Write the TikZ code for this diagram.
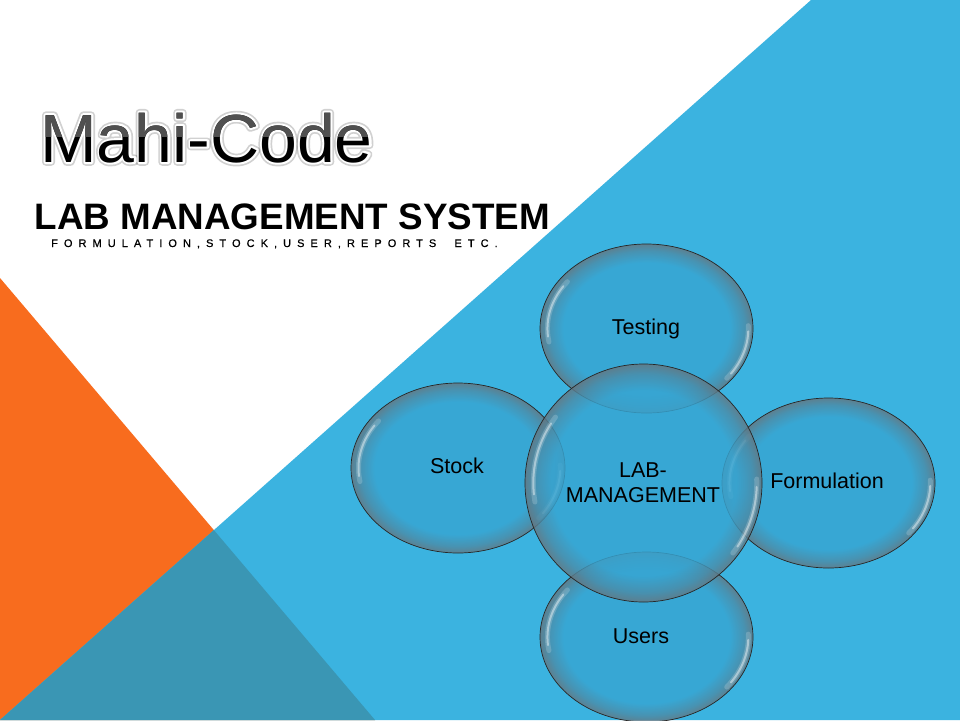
\documentclass[tikz,border=0pt]{standalone}
\usepackage{fontspec}
\setmainfont{Liberation Sans}
\newfontfamily\spacedfont[LetterSpace=55,FakeBold=0.6]{Liberation Sans}
\newfontfamily\mahiout[FakeBold=6]{Liberation Sans}
\newfontfamily\mahiglow[FakeBold=11]{Liberation Sans}
\usetikzlibrary{shapes.geometric,calc}
\definecolor{bgblue}{RGB}{59,179,224}
\definecolor{orng}{RGB}{248,108,30}
\definecolor{darkteal}{RGB}{58,150,180}
\definecolor{ellin}{RGB}{55,165,210}
\definecolor{ellrim}{RGB}{100,118,128}
\definecolor{ellmid}{RGB}{75,140,168}
\definecolor{titlegray}{RGB}{80,80,80}
\pgfdeclareradialshading{rimshade}{\pgfpoint{0bp}{0bp}}{color(0bp)=(ellin); color(19.5bp)=(ellin); color(23bp)=(ellmid); color(25bp)=(ellrim); color(50bp)=(ellrim)}
\newcommand\mybubble[5]{%
  \node[bubble, minimum width=#4pt, minimum height=#5pt] (#1) at (#2,#3) {};
  \draw[hlsoft] plot[domain=143:190, samples=25] ({#2+0.465*#4*cos(\x)},{#3-0.46*#5*sin(\x)});
  \draw[hlcore] plot[domain=147:186, samples=25] ({#2+0.465*#4*cos(\x)},{#3-0.46*#5*sin(\x)});
  \draw[hlsoft] plot[domain=-38:2, samples=25] ({#2+0.478*#4*cos(\x)},{#3-0.478*#5*sin(\x)});
  \draw[hlcore] plot[domain=-34:-2, samples=25] ({#2+0.478*#4*cos(\x)},{#3-0.478*#5*sin(\x)});
}
\begin{document}
\begin{tikzpicture}[x=1pt,y=-1pt,
  bubble/.style={ellipse, draw=black!85, line width=0.7pt, shade, shading=rimshade, fill opacity=0.82, draw opacity=1, inner sep=0pt},
  hlsoft/.style={white, line width=5pt, opacity=0.18, line cap=round},
  hlcore/.style={white, line width=2pt, opacity=0.42, line cap=round},
  lbl/.style={font=\fontsize{21.5}{25}\selectfont, text=black, inner sep=0pt, anchor=base},
  titlefont/.style={font=\fontsize{68}{80}\selectfont, inner sep=0pt},
]
\useasboundingbox (0,0) rectangle (960,720);
\clip (0,0) rectangle (960,720);
% background
\fill[white] (0,0) rectangle (960,720);
\fill[orng] (0,278) -- (375,720) -- (0,720) -- cycle;
\fill[bgblue] (811,0) -- (960,0) -- (960,720) -- (0,720) -- cycle;
\fill[darkteal] (213.9,530.1) -- (375,720) -- (0,720) -- cycle;
% title
\begin{scope}[line join=round, miter limit=1]
\node[font=\mahiglow\fontsize{68}{80}\selectfont, anchor=base west, inner sep=0pt, text=black, opacity=0.18, line join=round] (mahiglow) at (40,162) {Mahi-Code};
\node[font=\mahiout\fontsize{68}{80}\selectfont, anchor=base west, inner sep=0pt, text=white, line join=round] (mahiout) at (40,162) {Mahi-Code};
\node[titlefont, anchor=base west, text=black] (mahi) at (40,162) {Mahi-Code};
\begin{scope}
  \clip (0,100) rectangle (400,136);
  \node[titlefont, anchor=base west, text=titlegray] (mahitop) at (40,162) {Mahi-Code};
\end{scope}
\end{scope}
\node[font=\bfseries\fontsize{36.8}{40}\selectfont, anchor=base west, inner sep=0pt] (lms) at (34.5,229) {LAB MANAGEMENT SYSTEM};
\node[font=\spacedfont\fontsize{11}{13}\selectfont, anchor=base west, inner sep=0pt, text=black] (sub) at (51,247) {FORMULATION,STOCK,USER,REPORTS\ \ ETC.};
% bubbles
\mybubble{testing}{646.5}{328.5}{213}{169}
\mybubble{stock}{458}{468}{214}{170}
\mybubble{formulation}{828.5}{483}{213}{170}
\mybubble{users}{646.5}{637}{213}{170}
\mybubble{center}{643.5}{483}{237}{238}
% labels
\node[lbl] (testing-l) at (646,334) {Testing};
\node[lbl] (stock-l) at (457,473) {Stock};
\node[lbl] (formulation-l) at (827,488) {Formulation};
\node[lbl] (users-l) at (641,643) {Users};
\node[lbl] (lab1) at (643,477) {LAB-};
\node[lbl] (lab2) at (643,502) {MANAGEMENT};
\end{tikzpicture}
\end{document}
